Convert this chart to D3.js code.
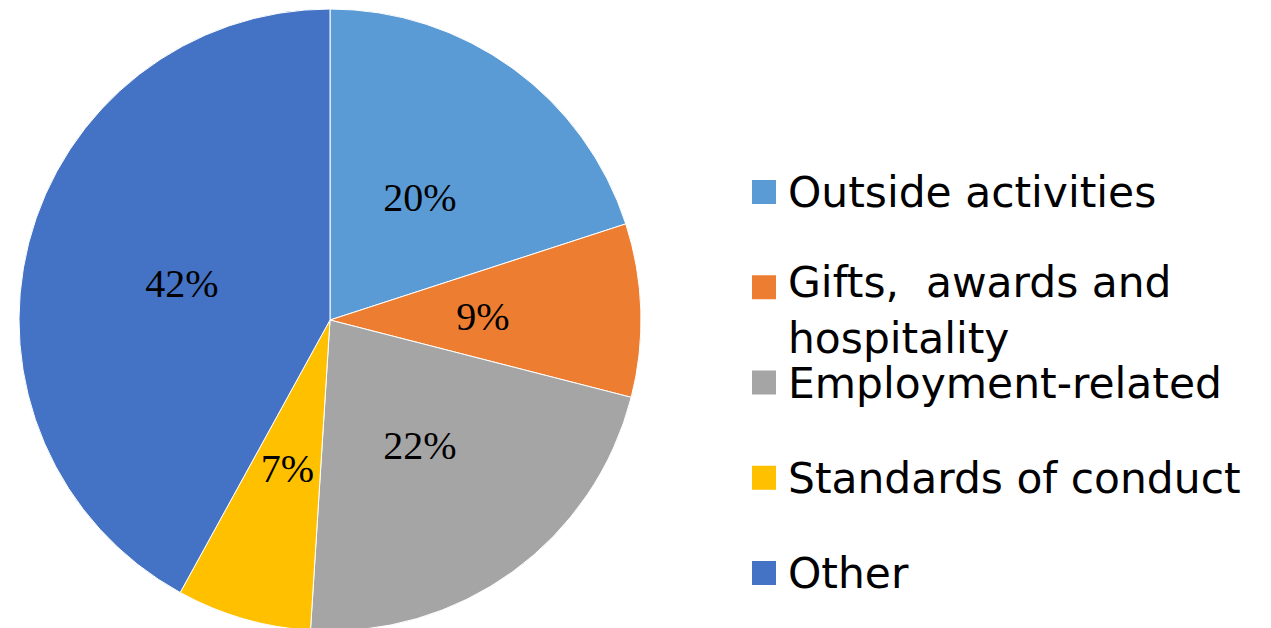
<!DOCTYPE html>
<html>
<head>
<meta charset="utf-8">
<script src="https://cdn.jsdelivr.net/npm/d3@7"></script>
<style>
  html, body { margin: 0; padding: 0; background: #fff; }
  svg { display: block; }
</style>
</head>
<body>
<svg class="chart"></svg>
<script>
const categories = ["Outside activities", "Gifts,  awards and hospitality", "Employment-related", "Standards of conduct", "Other"];
const values = [20, 9, 22, 7, 42];
const colors = ["#5B9BD5", "#ED7D31", "#A5A5A5", "#FFC000", "#4472C4"];

const width = 1271, height = 628;
const cx = 330, cy = 320, radius = 311;

const svg = d3.select(".chart")
    .attr("width", width)
    .attr("height", height);

const entries = categories.map((name, i) => ({ name, value: values[i], color: colors[i] }));

const pie = d3.pie()
    .sort(null)
    .value(d => d.value);

const arc = d3.arc()
    .innerRadius(0)
    .outerRadius(radius);

const labelArc = d3.arc()
    .innerRadius(153)
    .outerRadius(153);

const g = svg.append("g")
    .attr("transform", `translate(${cx}, ${cy})`);

const arcs = pie(entries);

g.selectAll(".slice")
    .data(arcs)
    .enter().append("path")
    .attr("class", "slice")
    .attr("d", arc)
    .attr("fill", d => d.data.color)
    .attr("stroke", "#fff")
    .attr("stroke-width", 1);

g.selectAll(".label")
    .data(arcs)
    .enter().append("text")
    .attr("class", "label")
    .attr("transform", d => `translate(${labelArc.centroid(d)})`)
    .attr("text-anchor", "middle")
    .attr("dy", "0.37em")
    .style("font-family", "'Liberation Serif', 'Times New Roman', serif")
    .style("font-size", "40px")
    .attr("fill", "#000")
    .text(d => d.data.value + "%");

// legend
const legend = svg.append("g")
    .attr("transform", "translate(752, 192)");

const items = legend.selectAll(".item")
    .data(entries)
    .enter().append("g")
    .attr("class", "item")
    .attr("transform", (d, i) => `translate(0, ${i * 95.25})`);

items.append("rect")
    .attr("x", 0)
    .attr("y", -12)
    .attr("width", 24)
    .attr("height", 24)
    .attr("fill", d => d.color);

items.each(function(d) {
    const t = d3.select(this).append("text")
        .attr("x", 36)
        .style("font-family", "'DejaVu Sans', Verdana, sans-serif")
        .style("font-size", "42.4px")
        .attr("fill", "#000");
    if (d.name.startsWith("Gifts")) {
        t.attr("y", 10).attr("xml:space", "preserve");
        t.append("tspan").attr("x", 36).attr("y", 10).text("Gifts,  awards and");
        t.append("tspan").attr("x", 36).attr("y", 66).text("hospitality");
    } else {
        t.attr("y", 15).text(d.name);
    }
});
</script>
</body>
</html>
